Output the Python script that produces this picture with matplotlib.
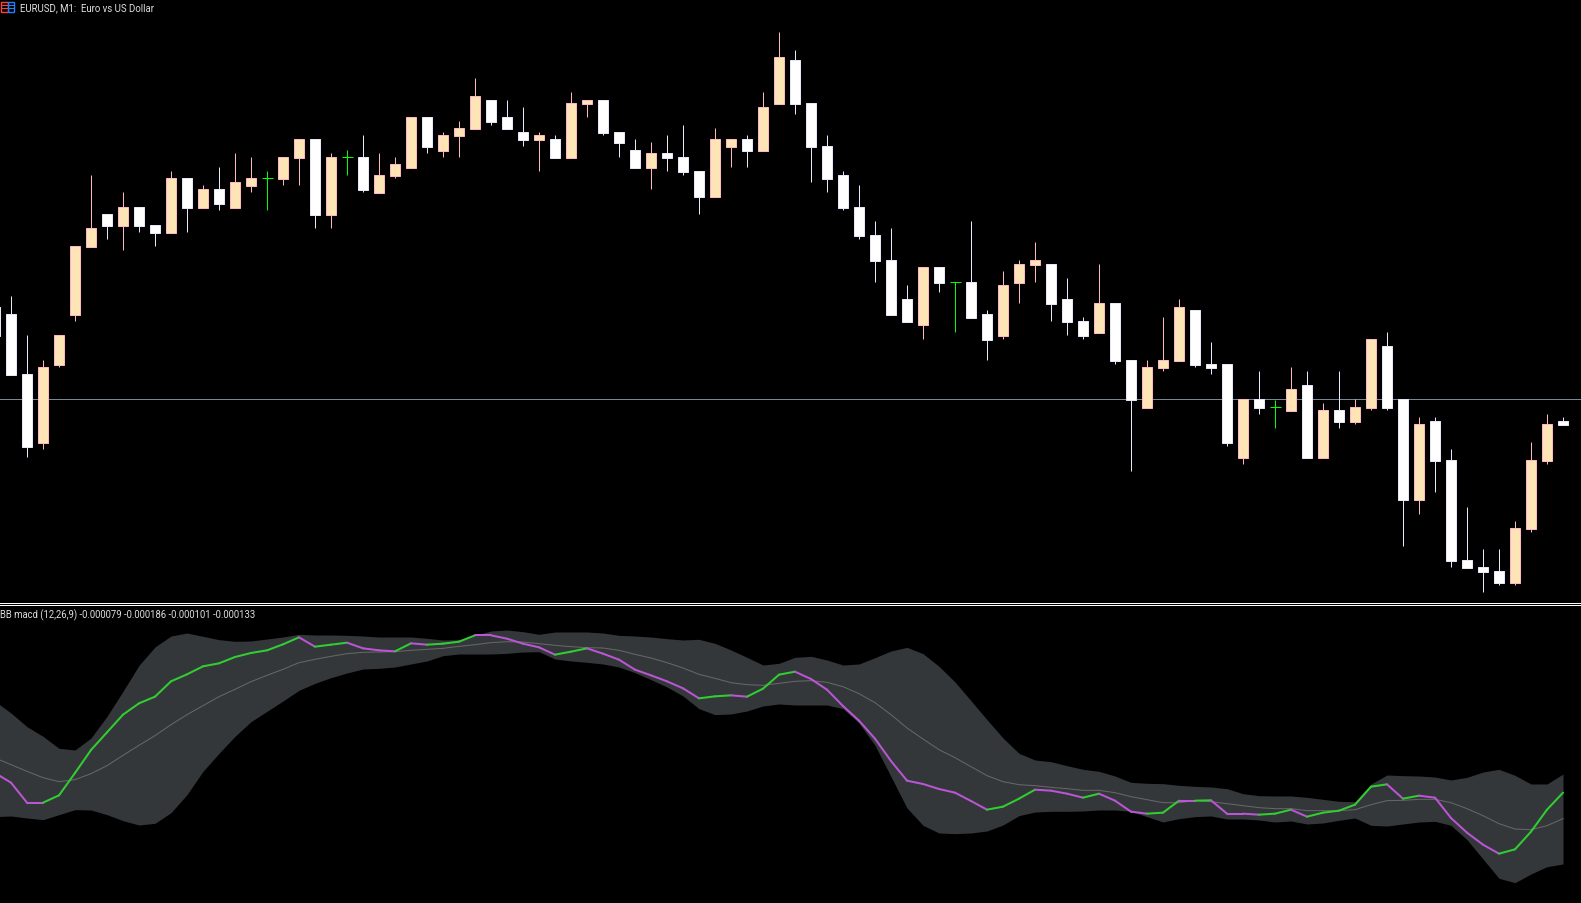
# EURUSD M1 chart with BB macd window
import numpy as np
import matplotlib
matplotlib.use("Agg")
from matplotlib import pyplot as plt
from matplotlib.patches import Rectangle

# Candles (chart units, y grows downward, 3 units = 1 px)
# w = bear (white), p = bull (peach), g = doji (green)
kinds = list("w"  # first bar, cut by left edge
             "wwpppp" "wpwwpwpwpp" "gppwpg" "wppp" "wppp" "www"
             "pwpp" "www" "p" "www" "pp" "w" "pp" "wwwwwwww" "p" "w" "g" "ww" "ppp" "w"
             "ww" "p" "ww" "ppp" "www" "p" "w" "g" "p" "w" "p" "w" "pp" "ww" "p" "wwwww" "ppp" "w")

highs = [921, 888, 1005, 1080, 1005, 738, 525, 642, 576, 621, 675, 513, 534, 555, 501, 459, 471, 513, 471, 417,
         417, 459, 450, 405, 459, 471, 351, 351, 396, 363, 234, 300, 300, 321,
         396, 405, 276, 300, 300, 396, 417, 426, 405, 375, 513, 384, 417, 405, 276, 96, 150, 309, 405, 513, 555,
         663, 684, 855, 801, 801, 847, 663, 930, 813, 780, 726, 792,
         835, 951, 793, 909, 1080, 1080, 951, 897, 930, 1026, 1092, 1197, 1113, 1200, 1101, 1113, 1209, 1113, 1197,
         1017, 996, 1197, 1251, 1251, 1347, 1521, 1647, 1647, 1563, 1326, 1242, 1251]
tops = [921, 942, 1122, 1101, 1005, 738, 684, 642, 621, 621, 675, 534, 534, 567, 567, 546, 534, 535, 471, 417,
        417, 471, 471, 471, 525, 492, 351, 351, 405, 384, 288, 300, 351, 396,
        405, 417, 309, 300, 300, 396, 450, 459, 459, 471, 513, 417, 417, 417, 321, 171, 180, 309, 438, 525, 621,
        705, 780, 897, 801, 801, 847, 846, 942, 855, 792, 780, 792,
        897, 963, 909, 909, 1080, 1101, 1080, 921, 930, 1092, 1092, 1197, 1197, 1222, 1167, 1155, 1230, 1230, 1221,
        1017, 1038, 1197, 1272, 1263, 1380, 1680, 1701, 1713, 1584, 1380, 1272, 1263]
bottoms = [1010, 1127, 1343, 1331, 1097, 947, 743, 680, 680, 680, 701, 701, 626, 626, 614, 626, 560, 535, 539, 476,
           647, 647, 471, 572, 581, 530, 506, 443, 455, 410, 389, 368, 389, 422,
           422, 476, 476, 314, 401, 431, 506, 506, 476, 518, 593, 593, 443, 455, 455, 314, 314, 443, 539, 626, 710,
           785, 947, 968, 977, 851, 847, 956, 1022, 1010, 851, 797, 914,
           968, 1010, 1001, 1085, 1202, 1226, 1106, 1085, 1097, 1106, 1331, 1376, 1226, 1222, 1235, 1376, 1376, 1268, 1268,
           1226, 1226, 1502, 1502, 1385, 1685, 1706, 1718, 1751, 1751, 1589, 1385, 1277]
lows = [1010, 1127, 1373, 1349, 1103, 965, 743, 719, 752, 698, 740, 701, 698, 626, 632, 626, 578, 632, 557, 557,
        686, 686, 527, 578, 581, 536, 506, 461, 473, 473, 389, 377, 389, 440,
        515, 476, 476, 353, 407, 473, 506, 569, 515, 527, 644, 593, 503, 503, 455, 314, 344, 548, 578, 632, 719,
        848, 947, 968, 1019, 878, 998, 956, 1082, 1019, 911, 848, 965,
        1007, 1019, 1001, 1094, 1415, 1226, 1115, 1085, 1103, 1124, 1340, 1394, 1244, 1286, 1235, 1376, 1376, 1286, 1274,
        1232, 1232, 1640, 1544, 1478, 1703, 1706, 1778, 1757, 1757, 1598, 1394, 1277]

bid_level = 1198

# BB macd window
macd = [535, 564, 624, 624, 602, 535, 466, 413, 360, 326, 306, 260, 239, 215, 206, 187, 175, 167, 149, 128,
        156, 150, 144, 161, 167, 170, 146, 150, 147, 141, 122, 122, 132, 147,
        158, 180, 171, 161, 177, 195, 225, 242, 260, 281, 311, 305, 302, 306, 282, 240, 231, 253, 285, 334, 378,
        432, 499, 558, 568, 583, 594, 619, 645, 636, 612, 585, 588,
        597, 609, 597, 618, 651, 657, 654, 618, 618, 617, 657, 657, 660, 657, 645, 666, 654, 648, 630,
        576, 569, 612, 603, 609, 670, 714, 750, 777, 764, 711, 645, 594]
signal = [490, 510, 530, 549, 561, 555, 537, 513, 482, 452, 423, 390, 360, 333, 306, 284, 261, 242, 224, 204,
          194, 185, 177, 173, 172, 171, 167, 164, 161, 155, 150, 144, 141, 142,
          147, 152, 156, 159, 160, 167, 179, 190, 204, 220, 239, 251, 264, 270, 272, 266, 260, 258, 263, 276, 297,
          324, 360, 400, 433, 465, 489, 516, 543, 561, 570, 573, 578,
          582, 587, 587, 594, 606, 615, 624, 624, 618, 621, 627, 633, 639, 642, 642, 648, 648, 648, 645,
          630, 618, 617, 614, 614, 624, 642, 663, 687, 703, 705, 693, 672]
band_upper = [320, 355, 396, 425, 461, 466, 430, 365, 290, 212, 157, 124, 115, 125, 135, 140, 139, 133, 127, 119,
              121, 121, 122, 124, 127, 127, 127, 131, 136, 135, 122, 109, 106, 111,
              119, 112, 112, 112, 115, 122, 124, 127, 132, 136, 134, 146, 166, 188, 211, 206, 188, 185, 196, 211, 208,
              189, 169, 158, 177, 215, 262, 318, 375, 430, 476, 496, 501,
              513, 524, 530, 544, 563, 566, 567, 572, 575, 577, 582, 597, 603, 604, 604, 608, 614, 620, 621,
              568, 541, 543, 544, 547, 556, 548, 532, 524, 542, 568, 568, 538]
band_lower = [666, 664, 670, 675, 660, 645, 646, 660, 678, 691, 686, 654, 600, 530, 476, 425, 381, 350, 319, 287,
              266, 249, 235, 223, 221, 217, 208, 199, 183, 178, 178, 178, 176, 172,
              171, 193, 199, 203, 208, 217, 234, 255, 277, 304, 342, 360, 358, 349, 334, 328, 331, 331, 331, 342, 385,
              452, 546, 640, 692, 715, 717, 715, 709, 691, 663, 652, 650,
              650, 649, 646, 646, 650, 666, 682, 672, 666, 664, 673, 673, 676, 682, 679, 688, 685, 677, 670,
              692, 694, 688, 682, 680, 692, 735, 793, 851, 864, 838, 816, 808]

title_main = "EURUSD, M1:  Euro vs US Dollar"
title_macd = "BB macd (12,26,9) -0.000079 -0.000186 -0.000101 -0.000133"

W, H = 1581, 904
bars = np.arange(-1, len(highs) - 1)
xlim = ((0 - 11.0) / 16, (W - 11.0) / 16)

fig = plt.figure(figsize=(W / 100, H / 100), dpi=100, facecolor="black")
axPrice = fig.add_axes([0, 1 - 603 / H, 1, 603 / H])
axMacd = fig.add_axes([0, 0, 1, 298 / H])
for ax in (axPrice, axMacd):
    ax.set_facecolor("black")
    ax.set_xlim(xlim)
    ax.set_axis_off()
axPrice.set_ylim(603 * 3 - 2, -2)
axMacd.set_ylim(927 - 2, 33 - 2)

# separator between the windows
fig.add_artist(plt.Line2D([0, 1], [1 - 603.5 / H] * 2, color="white", lw=0.72))
fig.add_artist(plt.Line2D([0, 1], [1 - 605.5 / H] * 2, color="white", lw=0.72))

axPrice.axhline(bid_level, color="#778899", lw=0.72, zorder=1)

styles = {"w": ("white", "#e6e6fa"), "p": ("#ffe4b5", "#ffb6c1"), "g": ("#00ff00", "#00ff00")}
for x, kind, hi, top, bot, lo in zip(bars, kinds, highs, tops, bottoms, lows):
    face, edge = styles[kind]
    axPrice.vlines(x, hi, lo, color=edge, lw=0.72, zorder=2)
    if kind == "g":
        axPrice.hlines(top, x - 5.5 / 16, x + 5.5 / 16, color=edge, lw=0.72, zorder=3)
    else:
        axPrice.bar(x, bot - top, bottom=top, width=10 / 16, color=face, edgecolor=edge,
                    linewidth=0.72, zorder=3)

# macd window
axMacd.fill_between(bars, band_upper, band_lower, color="#33373a", lw=0, zorder=1)
axMacd.plot(bars, signal, color="#666666", lw=0.75, zorder=2)
for i in range(1, len(macd)):
    # lower y value = rising line
    col = "#32cd32" if macd[i] < macd[i - 1] else "#ba55d3"
    axMacd.plot(bars[i - 1:i + 1], macd[i - 1:i + 1], color=col, lw=1.45, zorder=3,
                solid_capstyle="round")

# little window icon, top left
red, blue = "#ff4040", "#2080ff"
fig.add_artist(Rectangle((1 / W, 1 - 12.5 / H), 6.5 / W, 10 / H, fill=False, ec=red, lw=1.0,
                         transform=fig.transFigure))
fig.add_artist(Rectangle((8 / W, 1 - 12.5 / H), 6.5 / W, 10 / H, fill=False, ec=blue, lw=1.0,
                         transform=fig.transFigure))
for yy in (5.5, 8.5):
    fig.add_artist(plt.Line2D([1 / W, 7.5 / W], [1 - yy / H] * 2, color=red, lw=0.72))
    fig.add_artist(plt.Line2D([8 / W, 14.5 / W], [1 - yy / H] * 2, color=blue, lw=0.72))

fig.text(20 / W, 1 - 8 / H, title_main, color="#dedede", fontsize=6.95, family="Roboto", va="center", ha="left")
fig.text(0.5 / W, 1 - 615.5 / H, title_macd, color="#dedede", fontsize=6.85, family="Roboto", va="center", ha="left")

plt.savefig("out.png", dpi=100, facecolor="black")
